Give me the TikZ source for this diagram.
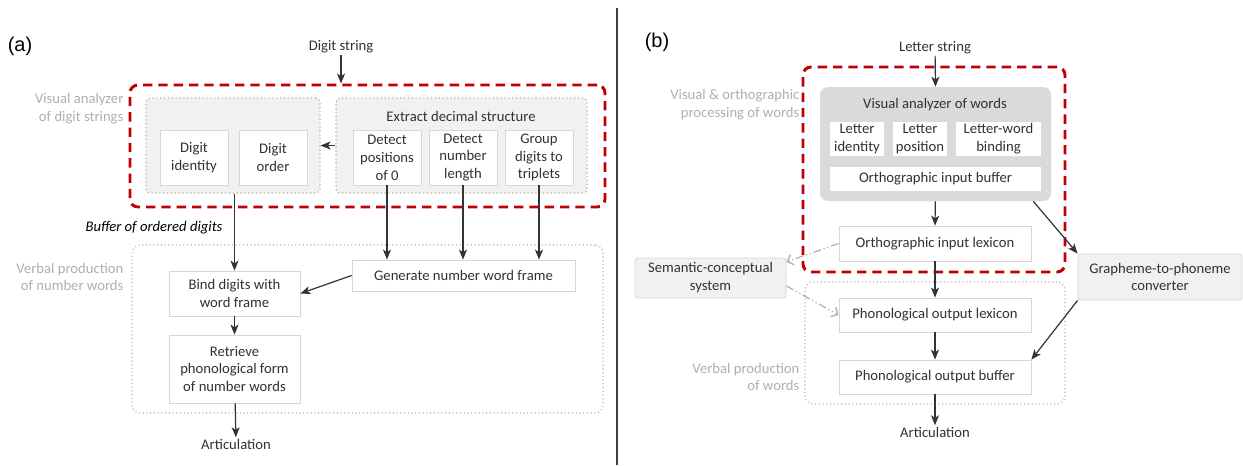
\documentclass[tikz,border=0pt]{standalone}
\usepackage{fontspec}
\setmainfont{Carlito}
\newfontfamily\panelfont{Liberation Sans}
\usetikzlibrary{arrows.meta}
\definecolor{redframe}{RGB}{192,0,0}
\definecolor{txtgray}{RGB}{50,50,50}
\definecolor{lblgray}{RGB}{175,175,175}
\definecolor{boxline}{RGB}{215,215,215}
\definecolor{grpfill}{RGB}{241,241,241}
\definecolor{vafill}{RGB}{218,218,218}
\newdimen\pxu \pxu=0.75pt
\tikzset{
  txt/.style={font=\fontsize{11}{13.4}\selectfont,text=txtgray,align=center,inner sep=1pt},
  sz/.style 2 args={minimum width=#1\pxu,minimum height=#2\pxu},
  unit/.style={txt,draw=boxline,fill=white,line width=0.6pt},
  sidebox/.style={txt,draw=boxline,fill=grpfill,line width=0.6pt,rounded corners=2pt},
  grpbox/.style={draw=lblgray,dotted,line width=0.9pt,fill=grpfill,rounded corners=3pt},
  verbbox/.style={draw=lblgray,dotted,line width=0.8pt,rounded corners=6pt},
  vabox/.style={fill=vafill,rounded corners=6pt},
  redbox/.style={draw=redframe,line width=2.2pt,dash pattern=on 7pt off 4.5pt,rounded corners=6pt},
  sidelabel/.style={txt,text=lblgray,align=right,anchor=east},
  flow/.style={-{Stealth[length=7.5pt,width=6pt,inset=2pt]},line width=0.9pt,black!80},
  semflow/.style={-{Straight Barb[length=4pt,width=8pt,line width=1pt]},line width=0.9pt,lblgray,
    dash pattern=on 6pt off 2pt on 1pt off 2pt on 1pt off 2pt},
  panel/.style={font=\panelfont\fontsize{15}{17}\selectfont,inner sep=0pt}
}
\begin{document}
\begin{tikzpicture}[x=0.75pt,y=-0.75pt]
  \useasboundingbox (0,0) rectangle (1243,465);
  % divider
  \coordinate (divtop) at (617,8);
  \coordinate (divbot) at (617,465);
  \draw[line width=1pt,black!75] (divtop) -- (divbot);

  % (a) digits
  \node[panel] (lblA) at (20,46) {(a)};
  \node[txt] (digstr) at (341,47) {Digit string};
  \node[grpbox,sz={174}{95}] (grpL) at (233,145.5) {};
  \node[grpbox,sz={251}{95}] (grpR) at (461.5,145.5) {};
  \node[redbox,sz={475}{122}] (redA) at (367.5,146) {};
  \node[txt] (extract) at (461,116) {Extract decimal structure};
  \node[unit,sz={68}{55}] (dIdent) at (194,157.5) {Digit\\identity};
  \node[unit,sz={68}{55}] (dOrder) at (273,157.5) {Digit\\order};
  \node[unit,sz={68}{55}] (detPos) at (387,157.5) {Detect\\positions\\of 0};
  \node[unit,sz={68}{55}] (detLen) at (463,157.5) {Detect\\number\\length};
  \node[unit,sz={68}{55}] (grpTri) at (539,157.5) {Group\\digits to\\triplets};
  \node[sidelabel] (lblVisA) at (125,109) {Visual analyzer\\of digit strings};
  \node[txt,text=black,font=\fontsize{11}{13.4}\selectfont\itshape] (bufA) at (154,228) {Buffer of ordered digits};
  \node[verbbox,sz={471}{168}] (verbA) at (367.5,329) {};
  \node[sidelabel] (lblVerbA) at (125,277) {Verbal production\\of number words};
  \node[unit,sz={223}{31}] (gen) at (463.5,275.5) {Generate number word frame};
  \node[unit,sz={131}{45}] (bind) at (234.5,293.5) {Bind digits with\\word frame};
  \node[unit,sz={131}{68}] (retr) at (234.5,369) {Retrieve\\phonological form\\of number words};
  \node[txt] (artA) at (236,444) {Articulation};

  \draw[flow] (digstr) -- (digstr |- redA.north);
  \draw[flow] (grpR.west) -- (grpL.east);
  \draw[flow] (bind.north |- grpL.south) -- (bind.north);
  \draw[flow] (detPos.south) -- (detPos.south |- gen.north);
  \draw[flow] (detLen.south) -- (detLen.south |- gen.north);
  \draw[flow] (grpTri.south) -- (grpTri.south |- gen.north);
  \draw[flow] (gen.west) -- (bind.east);
  \draw[flow] (bind) -- (retr);
  \draw[flow] (retr) -- (artA);

  % (b) words
  \node[panel] (lblB) at (657,42) {(b)};
  \node[txt] (letstr) at (935,48) {Letter string};
  \node[vabox,sz={231}{114}] (visW) at (935.5,144) {};
  \node[redbox,sz={262}{205}] (redB) at (934,169.5) {};
  \node[txt] (vaTitle) at (935,105) {Visual analyzer of words};
  \node[unit,draw=none,sz={54}{34}] (lIdent) at (857,139) {Letter\\identity};
  \node[unit,draw=none,sz={54}{34}] (lPos) at (920,139) {Letter\\position};
  \node[unit,draw=none,sz={85}{34}] (lBind) at (998.5,139) {Letter-word\\binding};
  \node[unit,draw=none,sz={211}{24}] (oBuf) at (935.5,179) {Orthographic input buffer};
  \node[sidelabel] (lblVisB) at (801,105) {Visual \& orthographic\\processing of words};
  \node[unit,sz={192}{35}] (oLex) at (935,243.5) {Orthographic input lexicon};
  \node[sidebox,sz={151}{40}] (sem) at (710.5,278) {Semantic-conceptual\\system};
  \node[sidebox,sz={164}{46}] (g2p) at (1160,277) {Grapheme-to-phoneme\\converter};
  \node[verbbox,sz={260}{122}] (verbB) at (935,343) {};
  \node[unit,sz={192}{34}] (pLex) at (935,315) {Phonological output lexicon};
  \node[unit,sz={192}{34}] (pBuf) at (935,377) {Phonological output buffer};
  \node[sidelabel] (lblVerbB) at (801,377) {Verbal production\\of words};
  \node[txt] (artB) at (935,432) {Articulation};

  \draw[flow] (letstr) -- (visW.north);
  \draw[flow] (visW) -- (oLex);
  \draw[flow] (oLex) -- (pLex);
  \draw[flow] (pLex) -- (pBuf);
  \draw[flow] (pBuf) -- (artB);
  \draw[flow] ([xshift=-13.5pt]visW.south east) -- (g2p.north west);
  \draw[flow] (g2p.south west) -- (pBuf.north east);
  \draw[semflow] (oLex.west) -- (sem.12);
  \draw[semflow] (sem.-6) -- (pLex.west);
\end{tikzpicture}
\end{document}
